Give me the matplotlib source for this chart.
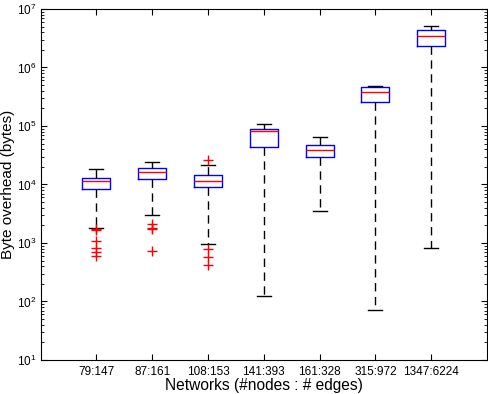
import matplotlib
matplotlib.use("Agg")
import matplotlib.pyplot as plt
from matplotlib.ticker import FixedLocator, LogLocator, NullFormatter

plt.rcParams['font.family'] = ['Liberation Sans', 'DejaVu Sans']
plt.rcParams['mathtext.fontset'] = 'custom'
plt.rcParams['mathtext.rm'] = 'Liberation Sans'

categories = ["79:147", "87:161", "108:153", "141:393", "161:328", "315:972", "1347:6224"]
whisker_low = [1782, 2975, 949, 124, 3475, 72, 811]
box_low = [8280, 12250, 8960, 43200, 29150, 254000, 2300000]
medians = [11350, 16150, 11350, 81100, 38400, 376000, 3410000]
box_high = [12760, 18900, 14350, 87700, 46800, 458000, 4320000]
whisker_high = [18200, 23950, 21300, 106700, 64900, 476600, 5060000]
outliers = [
    [1714, 1650, 1096, 832, 693, 607],
    [2113, 1830, 1735, 721],
    [26240, 789, 577, 426],
    [],
    [],
    [],
    [],
]
ytick_values = [1e1, 1e2, 1e3, 1e4, 1e5, 1e6, 1e7]

stats = []
for i, lab in enumerate(categories):
    stats.append(dict(label=lab, whislo=whisker_low[i], q1=box_low[i], med=medians[i],
                      q3=box_high[i], whishi=whisker_high[i], fliers=outliers[i]))

fig = plt.figure(figsize=(4.88, 3.94), dpi=100)
ax = fig.add_axes([0.083, 0.0863, 0.915, 0.891])

ax.bxp(stats, positions=range(1, len(categories) + 1), widths=0.5,
       boxprops=dict(color='blue', linewidth=1.0),
       medianprops=dict(color='red', linewidth=1.0),
       whiskerprops=dict(color='black', linestyle=(0, (6, 4)), linewidth=1.0),
       capprops=dict(color='black', linewidth=1.0),
       flierprops=dict(marker='+', markeredgecolor='red', markersize=7, linestyle='none', markeredgewidth=1.0),
       capwidths=0.25)

ax.set_yscale('log')
ax.set_ylim(10, 1e7)
ax.set_xlim(0, 8)
ax.set_xticks(range(1, len(categories) + 1))
ax.set_xticklabels(categories, fontsize=8.5)
ax.yaxis.set_major_locator(FixedLocator(ytick_values))
ax.yaxis.set_minor_locator(LogLocator(base=10, subs=range(2, 10), numticks=100))
ax.yaxis.set_minor_formatter(NullFormatter())
ax.tick_params(axis='both', which='both', direction='in', top=True, right=True)
ax.tick_params(axis='both', which='major', length=4, labelsize=8.5)
ax.tick_params(axis='x', which='major', pad=4)
ax.tick_params(axis='y', which='major', pad=3)
ax.tick_params(axis='y', which='minor', length=2)
ax.tick_params(axis='x', which='minor', length=0)
for s in ax.spines.values():
    s.set_linewidth(0.8)

ax.set_xlabel("Networks (#nodes : # edges)", fontsize=11.2, labelpad=0)
ax.set_ylabel("Byte overhead (bytes)", fontsize=11)
ax.yaxis.set_label_coords(-0.057, 0.5)

fig.savefig("out.png", dpi=100)
